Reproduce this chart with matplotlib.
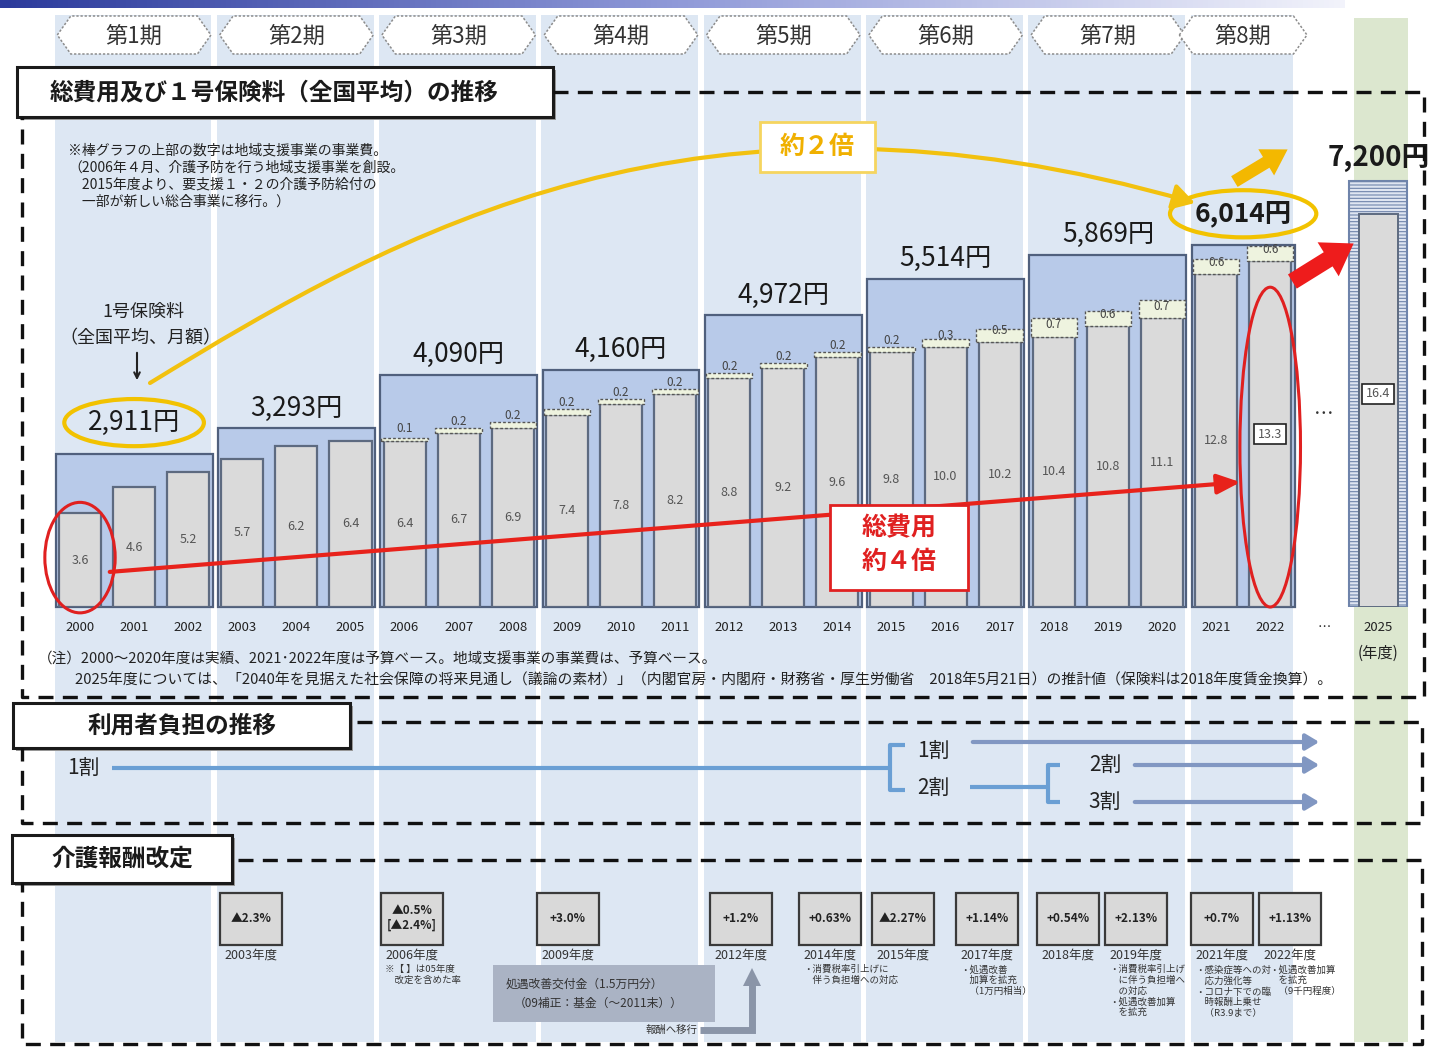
import numpy as np
import matplotlib.pyplot as plt
from matplotlib.colors import LinearSegmentedColormap
from matplotlib.patches import Rectangle, Polygon, Ellipse, FancyArrowPatch
from matplotlib.path import Path
from matplotlib.transforms import blended_transform_factory

plt.rcParams['font.family'] = ['Noto Sans CJK JP', 'DejaVu Sans']
plt.rcParams['hatch.linewidth'] = 0.8

# 総費用（兆円）：介護給付費 + 地域支援事業費
years = list(range(2000, 2023))
benefit = [3.6, 4.6, 5.2, 5.7, 6.2, 6.4, 6.4, 6.7, 6.9, 7.4, 7.8, 8.2,
           8.8, 9.2, 9.6, 9.8, 10.0, 10.2, 10.4, 10.8, 11.1, 12.8, 13.3]
support = [0, 0, 0, 0, 0, 0, 0.1, 0.2, 0.2, 0.2, 0.2, 0.2,
           0.2, 0.2, 0.2, 0.2, 0.3, 0.5, 0.7, 0.6, 0.7, 0.6, 0.6]
total_2025 = 16.4

# 1号保険料（全国平均、月額・円）
periods = ['第1期', '第2期', '第3期', '第4期', '第5期', '第6期', '第7期', '第8期']
period_len = [3, 3, 3, 3, 3, 3, 3, 2]
premium = [2911, 3293, 4090, 4160, 4972, 5514, 5869, 6014]
premium_2025 = 7200

# 介護報酬改定
rev_years = ['2003年度', '2006年度', '2009年度', '2012年度', '2014年度', '2015年度',
             '2017年度', '2018年度', '2019年度', '2021年度', '2022年度']
rev_rates = ['▲2.3%', '▲0.5%\n[▲2.4%]', '+3.0%', '+1.2%', '+0.63%', '▲2.27%',
             '+1.14%', '+0.54%', '+2.13%', '+0.7%', '+1.13%']
rev_notes = ['', '※【 】は05年度\n　改定を含めた率', '', '', '・消費税率引上げに\n　伴う負担増への対応', '',
             '・処遇改善\n　加算を拡充\n　（1万円相当）', '',
             '・消費税率引上げ\n　に伴う負担増へ\n　の対応\n・処遇改善加算\n　を拡充',
             '・感染症等への対\n　応力強化等\n・コロナ下での臨\n　時報酬上乗せ\n　（R3.9まで）',
             '・処遇改善加算\n　を拡充\n　（9千円程度）']
rev_x = [251, 412, 568, 741, 830, 903, 987, 1068, 1136, 1222, 1290]

W, H = 1437, 1048
X0, DX = 80, 54.1          # 2000年度の棒の中心(px)、1年あたりの幅(px)
BASE, TOP = 607, 100       # グラフ領域の下端・上端(px)
UNIT = 26.0                # 1兆円あたりのpx
P0, PSCALE = 640, 0.0673   # 保険料軸：下端の円、1円あたりのpx


def setup(fig):
    bg = fig.add_axes([0, 0, 1, 1], zorder=0)
    fg = fig.add_axes([0, 0, 1, 1], zorder=3)
    for a in (bg, fg):
        a.set_xlim(0, W)
        a.set_ylim(H, 0)
        a.axis('off')
    xlo, xhi = -0.6, 24.6
    rect = [(X0 + xlo * DX) / W, (H - BASE) / H, (xhi - xlo) * DX / W, (BASE - TOP) / H]
    ax = fig.add_axes(rect, zorder=2)
    ax.set_xlim(xlo, xhi)
    ax.set_ylim(0, (BASE - TOP) / UNIT)
    ax.patch.set_visible(False)
    for s in ax.spines.values():
        s.set_visible(False)
    ax.set_yticks([])
    pax = ax.twinx()
    pax.set_zorder(1)
    pax.set_ylim(P0, P0 + (BASE - TOP) / PSCALE)
    pax.axis('off')
    return bg, fg, ax, pax


def draw_columns(bg, fg, ax):
    tr = blended_transform_factory(ax.transData, bg.transData)
    ftr = blended_transform_factory(ax.transData, fg.transData)
    start = 0
    for name, n in zip(periods, period_len):
        bg.add_patch(Rectangle((start - 0.47, 15), n - 0.1, 1027, transform=tr,
                               fc='#dde7f3', ec='none'))
        cx = start + (n - 1) / 2
        hw = 0.7 + 0.24 * n
        tip = 0.25
        pts = [(cx - hw, 35), (cx - hw + tip, 16), (cx + hw - tip, 16),
               (cx + hw, 35), (cx + hw - tip, 54), (cx - hw + tip, 54)]
        fg.add_patch(Polygon(pts, closed=True, transform=ftr, fc='white',
                             ec='#8c8c8c', lw=1.1, ls=(0, (1.5, 1.2))))
        fg.text(cx, 36, name, transform=ftr, ha='center', va='center',
                fontsize=16, color='#333333')
        start += n
    bg.add_patch(Rectangle((23.55, 18), 1.0, 1024, transform=tr, fc='#dce7cf', ec='none'))

    # 上部の帯
    cmap = LinearSegmentedColormap.from_list('band', ['#2c3b9c', '#8f99d8', '#f2f3fb'])
    fg.imshow(np.linspace(0, 1, 256).reshape(1, -1), cmap=cmap, aspect='auto',
              extent=(0, 1345, 8, 0))
    fg.set_xlim(0, W)
    fg.set_ylim(H, 0)


def draw_bars(ax, pax):
    x = np.arange(len(years))
    b = np.array(benefit)
    s = np.array(support)

    # 期ごとの保険料（背面の枠）
    n = np.array(period_len)
    starts = np.concatenate([[0], np.cumsum(n)[:-1]])
    centers = starts + (n - 1) / 2
    pax.bar(centers, np.array(premium) - P0, bottom=P0, width=n - 0.1,
            color='#b8cae9', edgecolor='#50607d', linewidth=1.6, clip_on=False)
    for c, p in zip(centers, premium):
        circled = p in (premium[0], premium[-1])
        kw = dict(ha='center', va='bottom', textcoords='offset points',
                  fontsize=19, color='#1a1a1a')
        if circled:
            kw['bbox'] = dict(boxstyle='ellipse,pad=0.12', fc='none', ec='#f2c200', lw=3)
        if p == premium[-1]:
            kw['fontweight'] = 'bold'
        pax.annotate(f'{p:,}円', (c, p), xytext=(0, 13 if circled else 5), **kw)

    # 総費用
    ax.bar(x, b, width=0.78, color='#dadada', edgecolor='#5d6a80', linewidth=1.6, zorder=2)
    m = s > 0
    ax.bar(x[m], s[m], bottom=b[m], width=0.86, color='#eef3df', edgecolor='#555555',
           linewidth=1, linestyle=(0, (2, 1.5)), zorder=3)
    for i in x:
        box = None
        if i == x[-1]:
            box = dict(boxstyle='square,pad=0.3', fc='white', ec='#222222', lw=1.2)
        ax.text(i, b[i] / 2, f'{b[i]:.1f}', ha='center', va='center', fontsize=9,
                color='#555555', bbox=box, zorder=4)
        if s[i] > 0:
            ax.text(i, b[i] + max(s[i] / 2, 0.45), f'{s[i]:.1f}', ha='center', va='center',
                    fontsize=8.5, color='#444444', zorder=4)

    # 2025年度（推計）
    ax.bar(24, total_2025, width=1.07, color='#dfe5f1', edgecolor='#6f84ab',
           hatch='-----', linewidth=1.5, zorder=2)
    ax.bar(24, total_2025 - 1.3, width=0.72, color='#dadada', edgecolor='#5d6a80',
           linewidth=1.4, zorder=3)
    ax.text(24, total_2025 / 2, f'{total_2025:.1f}', ha='center', va='center', fontsize=9,
            color='#555555', zorder=4,
            bbox=dict(boxstyle='square,pad=0.3', fc='white', ec='#222222', lw=1.2))
    ax.annotate(f'{premium_2025:,}円', (24, total_2025), xytext=(0, 6),
                textcoords='offset points', ha='center', va='bottom', fontsize=20,
                fontweight='bold', color='#1a1a1a')
    ax.text(23, 7.4, '…', ha='center', va='center', fontsize=14, color='#333333')

    ax.set_xticks(list(x) + [23, 24])
    ax.set_xticklabels([str(y) for y in years] + ['…', '2025'])
    ax.tick_params(axis='x', length=0, pad=10, labelsize=9.5, labelcolor='#222222')
    ax.annotate('(年度)', (24, 0), xytext=(0, -33), textcoords='offset points',
                ha='center', va='center', fontsize=11, color='#222222')

    # 総費用の伸び
    ax.add_patch(Ellipse((0, 1.9), 1.3, 4.25, fc='none', ec='#e02020', lw=2.2, zorder=6,
                         clip_on=False))
    ax.add_patch(Ellipse((22, 6.15), 1.12, 12.3, fc='none', ec='#e02020', lw=2.2, zorder=6,
                         clip_on=False))
    ax.annotate('', xy=(21.45, 4.8), xytext=(0.55, 1.35),
                arrowprops=dict(arrowstyle='-|>,head_length=0.7,head_width=0.3',
                                mutation_scale=20, color='#e8221b', lw=3,
                                shrinkA=0, shrinkB=0), zorder=6)


def draw_cost_panel(fg):
    fg.plot([553, 1424, 1424, 22, 22], [92, 92, 697, 697, 117], color='#111111', lw=2.4,
            ls=(0, (4.5, 2.8)))
    title_box(fg, 17, 67, 553, 117, '総費用及び１号保険料（全国平均）の推移', 50)

    note = ('※棒グラフの上部の数字は地域支援事業の事業費。\n'
            '（2006年４月、介護予防を行う地域支援事業を創設。\n'
            '　2015年度より、要支援１・２の介護予防給付の\n'
            '　一部が新しい総合事業に移行。）')
    fg.text(68, 143, note, va='top', ha='left', fontsize=10, linespacing=1.3,
            color='#222222')

    fg.text(143, 312, '1号保険料', ha='center', va='center', fontsize=13, color='#222222')
    fg.text(140, 338, '（全国平均、月額）', ha='center', va='center', fontsize=13,
            color='#222222')
    fg.annotate('', xy=(137, 383), xytext=(137, 350),
                arrowprops=dict(arrowstyle='->', color='#222222', lw=1.5))

    # 保険料の伸び
    verts = [(150, 383), (400, 230), (700, 60), (1195, 203)]
    path = Path(verts, [Path.MOVETO, Path.CURVE4, Path.CURVE4, Path.CURVE4])
    fg.add_patch(FancyArrowPatch(path=path, arrowstyle='-|>,head_length=0.6,head_width=0.35',
                                 mutation_scale=22, color='#f2c10f', lw=3))
    fg.add_patch(Rectangle((760, 122), 115, 50, fc='white', ec='#f5d55f', lw=2))
    fg.text(817, 147, '約２倍', ha='center', va='center', fontsize=18, fontweight='bold',
            color='#f0b000')
    fg.add_patch(FancyArrowPatch((1232, 183), (1290, 148),
                                 arrowstyle='simple,head_length=0.9,head_width=1.1,tail_width=0.45',
                                 mutation_scale=20, color='#f3b800', lw=0))
    fg.add_patch(FancyArrowPatch((1290, 283), (1356, 242),
                                 arrowstyle='simple,head_length=0.9,head_width=1.2,tail_width=0.5',
                                 mutation_scale=24, color='#ee1c1c', lw=0))

    fg.add_patch(Rectangle((830, 505), 138, 85, fc='white', ec='#e02020', lw=2))
    fg.text(899, 528, '総費用', ha='center', va='center', fontsize=18, fontweight='bold',
            color='#e02020')
    fg.text(899, 562, '約４倍', ha='center', va='center', fontsize=18, fontweight='bold',
            color='#e02020')

    fg.text(38, 660, '（注）2000～2020年度は実績、2021･2022年度は予算ベース。'
                     '地域支援事業の事業費は、予算ベース。',
            ha='left', va='center', fontsize=10.5, color='#222222')
    fg.text(75, 680, '2025年度については、「2040年を見据えた社会保障の将来見通し（議論の素材）」'
                     '（内閣官房・内閣府・財務省・厚生労働省　2018年5月21日）の推計値'
                     '（保険料は2018年度賃金換算）。',
            ha='left', va='center', fontsize=10.7, color='#222222')


def title_box(fg, l, t, r, b, text, tx=None):
    fg.add_patch(Rectangle((l + 3, t + 3), r - l, b - t, fc='#9a9a9a', ec='none'))
    fg.add_patch(Rectangle((l, t), r - l, b - t, fc='white', ec='#1a1a1a', lw=2.2))
    if tx is None:
        fg.text((l + r) / 2, (t + b) / 2, text, ha='center', va='center', fontsize=17,
                fontweight='bold', color='#1a1a1a')
    else:
        fg.text(tx, (t + b) / 2, text, ha='left', va='center', fontsize=17,
                fontweight='bold', color='#1a1a1a')


def burden_arrow(fg, x1, x2, y):
    fg.add_patch(FancyArrowPatch((x1, y), (x2, y),
                                 arrowstyle='-|>,head_length=0.5,head_width=0.3',
                                 mutation_scale=16, color='#8197c2', lw=3))


def draw_burden(fg):
    fg.plot([357, 1422, 1422, 22, 22], [722, 722, 823, 823, 748], color='#111111', lw=2.4,
            ls=(0, (4.5, 2.8)))
    title_box(fg, 13, 703, 350, 748, '利用者負担の推移')

    line = dict(color='#6a9fd4', lw=3, solid_capstyle='butt')
    fg.text(83, 768, '1割', ha='center', va='center', fontsize=15, color='#222222')
    fg.plot([112, 890], [768, 768], **line)
    fg.plot([905, 890, 890, 905], [745, 745, 790, 790], **line)
    fg.text(933, 751, '1割', ha='center', va='center', fontsize=15, color='#222222')
    fg.text(933, 788, '2割', ha='center', va='center', fontsize=15, color='#222222')
    fg.plot([970, 1048], [787, 787], **line)
    fg.plot([1060, 1048, 1048, 1060], [765, 765, 802, 802], **line)
    fg.text(1105, 765, '2割', ha='center', va='center', fontsize=15, color='#222222')
    fg.text(1105, 802, '3割', ha='center', va='center', fontsize=15, color='#222222')
    burden_arrow(fg, 970, 1322, 742)
    burden_arrow(fg, 1132, 1322, 765)
    burden_arrow(fg, 1132, 1322, 802)


def draw_revisions(fg):
    fg.plot([238, 1422, 1422, 22, 22], [860, 860, 1044, 1044, 883], color='#111111', lw=2.4,
            ls=(0, (4.5, 2.8)))
    title_box(fg, 12, 835, 232, 883, '介護報酬改定')

    for cx, yr, rate, note in zip(rev_x, rev_years, rev_rates, rev_notes):
        fg.add_patch(Rectangle((cx - 31, 893), 62, 52, fc='#d9d9d9', ec='#3a3a3a', lw=1.6))
        fg.text(cx, 918, rate, ha='center', va='center', fontsize=8.5, fontweight='bold',
                color='#222222', linespacing=1.1)
        fg.text(cx, 955, yr, ha='center', va='center', fontsize=9, color='#333333')
        if note:
            nx = cx - 27 if yr != '2022年度' else cx - 21
            fg.text(nx, 965, note, ha='left', va='top', fontsize=6.8, color='#333333',
                    linespacing=1.2)

    fg.add_patch(Rectangle((493, 965), 222, 57, fc='#aab3c4', ec='none'))
    fg.text(506, 984, '処遇改善交付金（1.5万円分）', ha='left', va='center', fontsize=8.5,
            color='#333333')
    fg.text(514, 1003, '（09補正：基金（～2011末））', ha='left', va='center', fontsize=8.5,
            color='#333333')
    fg.text(697, 1030, '報酬へ移行', ha='right', va='center', fontsize=7.5, color='#333333')
    fg.plot([700, 752, 752], [1030, 1030, 984], color='#8a95a8', lw=5,
            solid_joinstyle='miter', solid_capstyle='butt')
    fg.add_patch(Polygon([(743, 986), (761, 986), (752, 968)], closed=True,
                         fc='#8a95a8', ec='none'))


def main():
    fig = plt.figure(figsize=(W / 100, H / 100), dpi=100, facecolor='white')
    bg, fg, ax, pax = setup(fig)
    draw_columns(bg, fg, ax)
    draw_bars(ax, pax)
    draw_cost_panel(fg)
    draw_burden(fg)
    draw_revisions(fg)
    fig.savefig('out.png', dpi=100, facecolor='white')


if __name__ == '__main__':
    main()
